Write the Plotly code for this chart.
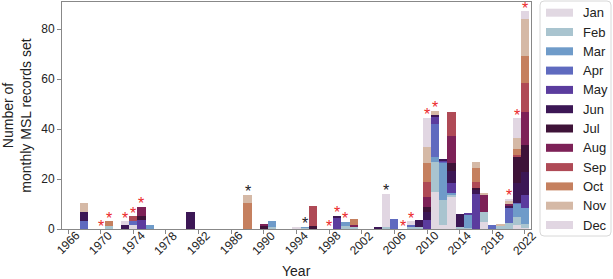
import plotly.graph_objects as go

months = ["Jan", "Feb", "Mar", "Apr", "May", "Jun", "Jul", "Aug", "Sep", "Oct", "Nov", "Dec"]
month_colors = ["#E1D8E2", "#A9C4CF", "#6F9BC9", "#5F6ABF", "#5B3C9E", "#3C1755",
                "#3E1338", "#7D2157", "#AF4A56", "#C5805F", "#D5B9A6", "#E1D6E2"]

years = [1968, 1971, 1973, 1974, 1975, 1976, 1981, 1988, 1990, 1991, 1994, 1995, 1996,
         1999, 2000, 2001, 2004, 2005, 2006, 2008, 2009, 2010, 2011, 2012, 2013, 2014,
         2015, 2016, 2017, 2018, 2019, 2020, 2021, 2022]

jan = [0, 0, 0, 1.7, 0, 0, 0, 0, 0, 0, 0.8, 0, 0, 0, 0, 0, 0, 0, 0, 0, 0, 0, 15, 1.7, 13, 0, 0, 0, 3, 0, 0, 0, 1.5, 0.5]
feb = [0, 1.3, 0, 0, 0, 0, 0, 0, 0, 1.0, 0, 0.4, 0, 0, 1.3, 0.8, 0, 0.8, 0, 0.8, 0.8, 0, 12, 10, 0.7, 0.7, 0.5, 0, 4, 0, 1.2, 2.3, 3.5, 1.5]
mar = [0, 0, 0, 0, 0, 1.8, 0, 0, 0, 2.1, 0, 0.6, 0, 0, 1.6, 0, 0, 0, 0, 0, 0, 0, 2, 14.7, 0.6, 0, 5.2, 0, 0, 0, 0, 0, 5, 6.4]
apr = [3.4, 0, 0, 1.7, 0, 0, 0, 0, 0, 0, 0, 0, 0, 0, 0, 0, 0, 0, 4.0, 1.0, 0, 0, 13, 0.6, 0, 0, 0, 0, 0, 1.8, 0, 6.3, 0.5, 0]
may = [0, 0, 0, 0, 3.5, 0, 0, 0, 0, 0, 0, 0, 0, 4.4, 0, 0, 0, 0, 0, 0, 0, 3.7, 2.7, 0.3, 4, 0, 0.6, 14.2, 0, 0, 0, 0, 0, 5.3]
jun = [3.6, 0, 1.5, 0, 0, 0, 6.8, 0, 0, 0, 0, 0, 0, 0.9, 0, 0, 1.0, 0, 0, 0, 2.7, 3.0, 0.8, 0.7, 5, 5.3, 0, 1.4, 0, 0, 0, 0.6, 8, 9]
jul = [0, 0, 0, 0, 1.8, 0, 0, 0, 1.1, 0, 0, 0, 1.1, 0, 0, 0, 0, 0, 0, 0, 0, 2.3, 0, 0, 3, 0, 0, 0.8, 0, 0, 0, 0, 10.5, 11]
aug = [0, 0, 0, 0, 3.7, 0, 0, 0, 1.0, 0, 0, 0, 0, 0, 0, 0.9, 0, 0, 0, 0, 0, 4.0, 0, 0, 11, 0, 0, 0, 6.5, 0, 0, 0.9, 0, 13]
sep = [0, 0, 0, 1.7, 0, 0, 0, 0, 0, 0, 0, 0, 8.1, 0, 0, 0, 0, 0, 0, 0, 0, 6.0, 0, 0, 9.7, 0, 0, 2.3, 0, 0, 0, 0, 0.7, 11.7]
oct_ = [0, 1.8, 0, 0, 0, 0, 0, 10.4, 0, 0, 0, 0, 0, 0, 0, 2.3, 0, 0, 0, 0, 0, 7.5, 0, 0, 0, 0, 0, 5.7, 0, 0, 0, 0, 2.4, 10.7]
nov = [3.6, 0, 0, 0, 0, 0, 0, 3.4, 0, 0, 0, 0, 0, 0, 0, 0, 0, 0, 0, 0, 0, 6.5, 1.8, 0, 0, 0, 0, 2.3, 0.8, 0, 0.8, 1, 4.3, 15]
dec = [0, 0, 1.7, 0, 0, 0, 0, 0, 0, 0, 0, 0, 0, 0, 0, 0, 0, 13.3, 0, 1.4, 0, 11.5, 0, 0, 0, 0, 0, 0, 0, 0, 0, 1, 8, 3]

monthly = [jan, feb, mar, apr, may, jun, jul, aug, sep, oct_, nov, dec]

red_star_years = [1970, 1971, 1973, 1974, 1975, 1998, 1999, 2000, 2007, 2008, 2010, 2011, 2020, 2021, 2022]
black_star_years = [1988, 1995, 2005]

tick_years = [1966, 1970, 1974, 1978, 1982, 1986, 1990, 1994, 1998, 2002, 2006, 2010, 2014, 2018, 2022]
y_ticks = [0, 20, 40, 60, 80]

FONT = "Liberation Sans, Arial, Helvetica, sans-serif"
W, H = 613, 279
ML, MR, MT, MB = 62, 82, 2, 50
PW, PH = W - ML - MR, H - MT - MB


def px_x(px):
    return (px - ML) / PW


def px_y(py):
    return (H - MB - py) / PH


fig = go.Figure()
for name, vals, col in zip(months, monthly, month_colors):
    fig.add_trace(go.Bar(x=years, y=vals, name=name, marker_color=col,
                         marker_line_width=0, width=1.0, showlegend=False, hoverinfo="skip"))

totals = {yr: sum(m[i] for m in monthly) for i, yr in enumerate(years)}

annotations = []
for yrs, col in ((red_star_years, "#EC2A2A"), (black_star_years, "#222222")):
    for yr in yrs:
        annotations.append(dict(x=yr, y=totals.get(yr, 0), xref="x", yref="y", text="*",
                                showarrow=False, yanchor="middle", xanchor="center", yshift=3,
                                font=dict(family=FONT, size=16, color=col)))

for yr in tick_years:
    annotations.append(dict(x=yr, y=0, xref="x", yref="paper", text=str(yr), showarrow=False,
                            textangle=-45, xanchor="center", yanchor="middle", yshift=-14,
                            font=dict(family=FONT, size=12, color="#222")))

annotations.append(dict(x=0.5, y=0, xref="paper", yref="paper", text="Year", showarrow=False,
                        xanchor="center", yanchor="middle", yshift=-42,
                        font=dict(family=FONT, size=14, color="#222")))

# legend (drawn manually)
shapes = []
x0, x1, y0, y1, r = px_x(540), px_x(611), px_y(1), px_y(236), 4
rx, ry = r / PW, r / PH
path = (f"M{x0 + rx},{y0} L{x1 - rx},{y0} Q{x1},{y0} {x1},{y0 - ry} "
        f"L{x1},{y1 + ry} Q{x1},{y1} {x1 - rx},{y1} L{x0 + rx},{y1} Q{x0},{y1} {x0},{y1 + ry} "
        f"L{x0},{y0 - ry} Q{x0},{y0} {x0 + rx},{y0} Z")
shapes.append(dict(type="path", path=path, xref="paper", yref="paper",
                   line=dict(color="#D8D8D8", width=1), fillcolor="white", layer="above"))
for i, (name, col) in enumerate(zip(months, month_colors)):
    cy = 12.7 + 19.3 * i
    shapes.append(dict(type="rect", xref="paper", yref="paper",
                       x0=px_x(546), x1=px_x(573), y0=px_y(cy + 4), y1=px_y(cy - 4),
                       fillcolor=col, line=dict(width=0), layer="above"))
    annotations.append(dict(x=px_x(581), y=px_y(cy), xref="paper", yref="paper", text=name,
                            showarrow=False, xanchor="left", yanchor="middle",
                            font=dict(family=FONT, size=13, color="#222")))

fig.update_layout(
    template="none",
    width=W, height=H, margin=dict(l=ML, r=MR, t=MT, b=MB, autoexpand=False),
    barmode="stack", bargap=0, plot_bgcolor="white", paper_bgcolor="white",
    font=dict(family=FONT, size=12, color="#222"),
    annotations=annotations, shapes=shapes, showlegend=False, hovermode=False,
    xaxis=dict(range=[1965.26, 2022.74], tickvals=tick_years, showticklabels=False,
               ticks="outside", ticklen=4, tickcolor="#888", showline=True, linecolor="#888",
               linewidth=1, mirror=True, showgrid=False, zeroline=False, automargin=False),
    yaxis=dict(range=[0, PH / 2.5], tickvals=y_ticks, ticks="outside", ticklen=4,
               tickcolor="#888", showline=True, linecolor="#888", linewidth=1, mirror=True,
               showgrid=False, zeroline=False, tickfont=dict(size=12), automargin=False,
               title=dict(text="Number of<br>monthly MSL records set", standoff=8,
                          font=dict(size=14))),
)

fig.write_html("out.html", config={"displayModeBar": False, "staticPlot": True},
               post_script="document.body.style.margin='0';document.body.style.overflow='hidden';")
